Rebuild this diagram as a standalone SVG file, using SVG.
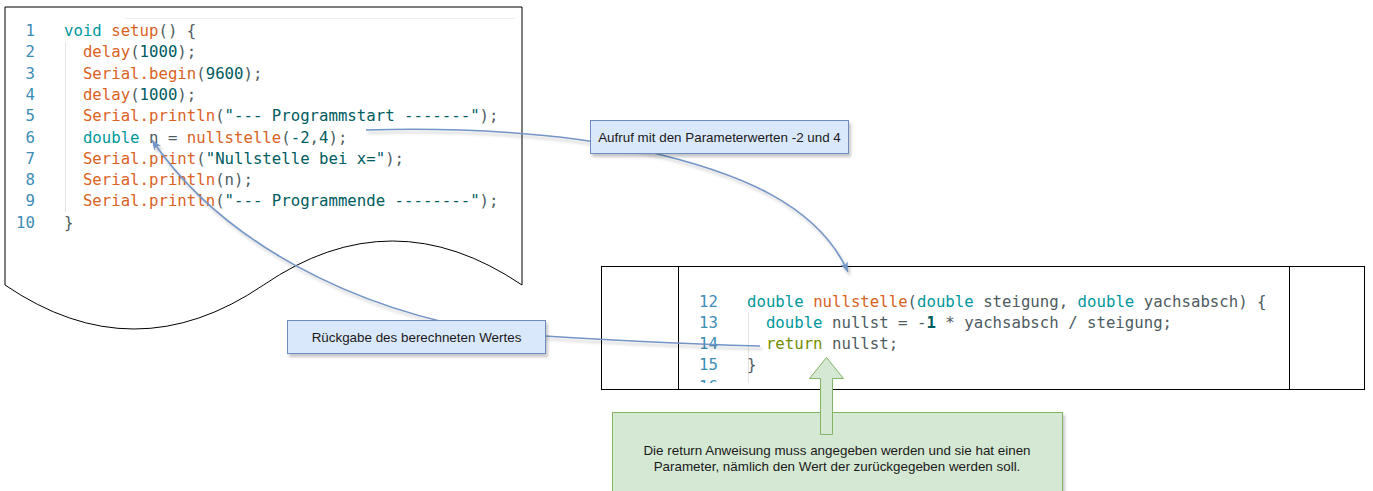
<svg xmlns="http://www.w3.org/2000/svg" width="1373" height="491" viewBox="0 0 1373 491">
  <style>
    .code { font-family: "DejaVu Sans Mono", "Liberation Mono", monospace; font-size: 15.7px; white-space: pre; }
    .ln { fill: #3d8db5; text-anchor: end; }
    .kw { fill: #00979c; }
    .fn { fill: #d9621f; }
    .lit { fill: #005c5f; }
    .pl { fill: #4e5b61; }
    .ret { fill: #728e00; }
    .frame { fill: #ffffff; stroke: #000000; stroke-width: 1; }
    .guide { stroke: #e3e3e3; stroke-width: 1; }
    .note-blue { fill: #dae8fc; stroke: #6c8ebf; stroke-width: 1; filter: url(#shadow); }
    .note-green { fill: #d5e8d4; stroke: #82b366; stroke-width: 1; }
    .label { font-family: "Liberation Sans", Arial, sans-serif; font-size: 13.4px; fill: #1a1a1a; text-anchor: middle; }
    .edge { fill: none; stroke: #7394c6; stroke-width: 1.6; filter: url(#shadow); marker-end: url(#arrow); }
  </style>
  <defs>
    <filter id="shadow" x="-10%" y="-10%" width="130%" height="140%">
      <feDropShadow dx="2" dy="3" stdDeviation="1.5" flood-color="#000000" flood-opacity="0.22"/>
    </filter>
    <marker id="arrow" markerUnits="userSpaceOnUse" markerWidth="12" markerHeight="10" refX="10" refY="4" orient="auto">
      <path d="M0,0 L10,4 L0,8 L2.5,4 Z" fill="#7394c6"/>
    </marker>
    <clipPath id="codeClip">
      <rect x="679" y="267" width="610" height="116"/>
    </clipPath>
  </defs>

  <!-- calling program: document shape with wavy bottom -->
  <g id="setup-code">
    <path class="frame" d="M5,7 H522 V285 Q392,197 263.5,285 Q134,373 5,285 Z"/>
    <line x1="125" y1="18.5" x2="515" y2="18.5" stroke="#efefef" stroke-width="1"/>
    <line class="guide" x1="65.5" y1="42" x2="65.5" y2="212"/>
    <g class="code">
      <text class="ln" x="35" y="36">1</text>
      <text class="ln" x="35" y="57.3">2</text>
      <text class="ln" x="35" y="78.6">3</text>
      <text class="ln" x="35" y="99.9">4</text>
      <text class="ln" x="35" y="121.2">5</text>
      <text class="ln" x="35" y="142.5">6</text>
      <text class="ln" x="35" y="163.8">7</text>
      <text class="ln" x="35" y="185.1">8</text>
      <text class="ln" x="35" y="206.4">9</text>
      <text class="ln" x="35" y="227.7">10</text>

      <text x="64" y="36"><tspan class="kw">void</tspan><tspan class="pl"> </tspan><tspan class="fn">setup</tspan><tspan class="pl">() {</tspan></text>
      <text x="82.9" y="57.3"><tspan class="fn">delay</tspan><tspan class="pl">(</tspan><tspan class="lit">1000</tspan><tspan class="pl">);</tspan></text>
      <text x="82.9" y="78.6"><tspan class="fn">Serial.begin</tspan><tspan class="pl">(</tspan><tspan class="lit">9600</tspan><tspan class="pl">);</tspan></text>
      <text x="82.9" y="99.9"><tspan class="fn">delay</tspan><tspan class="pl">(</tspan><tspan class="lit">1000</tspan><tspan class="pl">);</tspan></text>
      <text x="82.9" y="121.2"><tspan class="fn">Serial.println</tspan><tspan class="pl">(</tspan><tspan class="lit">"--- Programmstart -------"</tspan><tspan class="pl">);</tspan></text>
      <text x="82.9" y="142.5"><tspan class="kw">double</tspan><tspan class="pl"> n = </tspan><tspan class="fn">nullstelle</tspan><tspan class="pl">(</tspan><tspan class="lit">-2</tspan><tspan class="pl">,</tspan><tspan class="lit">4</tspan><tspan class="pl">);</tspan></text>
      <text x="82.9" y="163.8"><tspan class="fn">Serial.print</tspan><tspan class="pl">(</tspan><tspan class="lit">"Nullstelle bei x="</tspan><tspan class="pl">);</tspan></text>
      <text x="82.9" y="185.1"><tspan class="fn">Serial.println</tspan><tspan class="pl">(n);</tspan></text>
      <text x="82.9" y="206.4"><tspan class="fn">Serial.println</tspan><tspan class="pl">(</tspan><tspan class="lit">"--- Programmende --------"</tspan><tspan class="pl">);</tspan></text>
      <text x="64" y="227.7" class="pl">}</text>
    </g>
  </g>

  <!-- called function -->
  <g id="function-code">
    <rect class="frame" x="601.5" y="266.5" width="763" height="123"/>
    <line x1="678.5" y1="266.5" x2="678.5" y2="389.5" stroke="#000" stroke-width="1"/>
    <line x1="1289.5" y1="266.5" x2="1289.5" y2="389.5" stroke="#000" stroke-width="1"/>
    <line class="guide" x1="748.5" y1="312" x2="748.5" y2="383"/>
    <g class="code" clip-path="url(#codeClip)">
      <text class="ln" x="718" y="306.5">12</text>
      <text class="ln" x="718" y="327.8">13</text>
      <text class="ln" x="718" y="349.1">14</text>
      <text class="ln" x="718" y="370.4">15</text>
      <text class="ln" x="718" y="391.7">16</text>

      <text x="747" y="306.5"><tspan class="kw">double</tspan><tspan class="pl"> </tspan><tspan class="fn">nullstelle</tspan><tspan class="pl">(</tspan><tspan class="kw">double</tspan><tspan class="pl"> steigung, </tspan><tspan class="kw">double</tspan><tspan class="pl"> yachsabsch) {</tspan></text>
      <text x="765.9" y="327.8"><tspan class="kw">double</tspan><tspan class="pl"> nullst = -</tspan><tspan class="lit" font-weight="bold">1</tspan><tspan class="pl"> * yachsabsch / steigung;</tspan></text>
      <text x="765.9" y="349.1"><tspan class="ret">return</tspan><tspan class="pl"> nullst;</tspan></text>
      <text x="747" y="370.4" class="pl">}</text>
    </g>
  </g>

  <!-- explanation of the return statement -->
  <g id="return-note">
    <rect class="note-green" x="612.5" y="412.5" width="450" height="90" filter="url(#shadow)"/>
    <text class="label" x="837" y="455">Die return Anweisung muss angegeben werden und sie hat einen</text>
    <text class="label" x="837" y="471">Parameter, nämlich den Wert der zurückgegeben werden soll.</text>
  </g>
  <g id="return-pointer">
    <path class="note-green" d="M820.5,434.5 V378.5 H809.5 L826.5,357.5 L843.5,378.5 H832.5 V434.5 Z"/>
  </g>

  <!-- connectors -->
  <g id="connectors">
    <path class="edge" d="M366,130 C460,127 560,133 640,150 C740,172 818,205 848,272"/>
    <path class="edge" d="M760,346 C680,344 600,340 500,333 C350,310 220,240 152,140"/>
  </g>

  <g id="call-note">
    <rect class="note-blue" x="590.5" y="120.5" width="258" height="33"/>
    <text class="label" x="719.5" y="141.8">Aufruf mit den Parameterwerten -2 und 4</text>
  </g>
  <g id="return-value-note">
    <rect class="note-blue" x="287.5" y="320.5" width="258" height="33"/>
    <text class="label" x="416.5" y="341.8">Rückgabe des berechneten Wertes</text>
  </g>
</svg>
